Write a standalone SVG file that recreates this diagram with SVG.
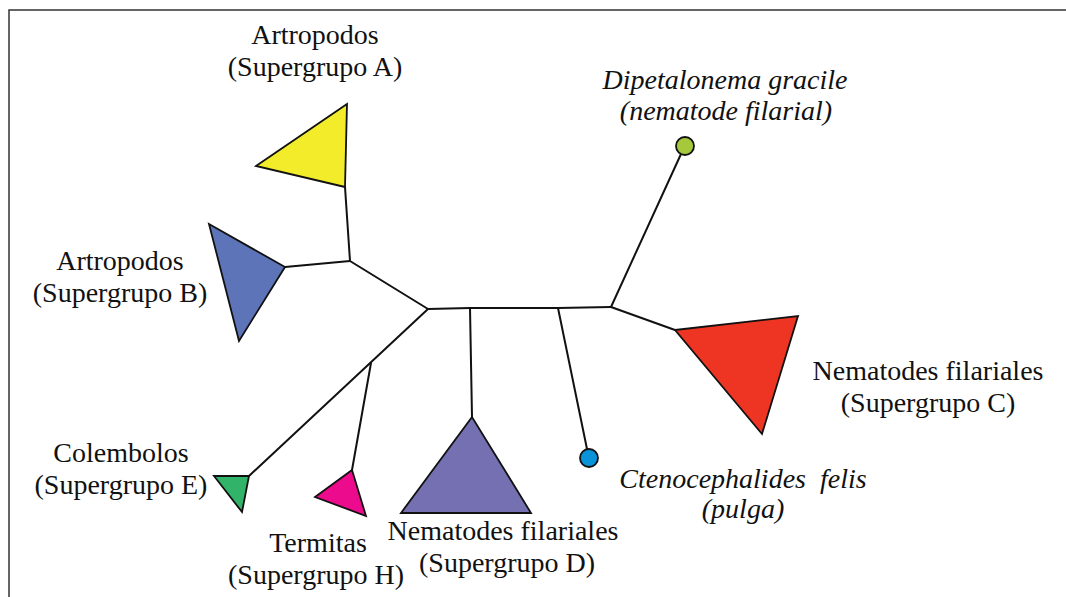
<svg xmlns="http://www.w3.org/2000/svg" width="1066" height="597" viewBox="0 0 1066 597">
<style>
.t{font-family:"Liberation Serif","Times New Roman",serif;font-size:28px;fill:#111;text-anchor:middle}
.i{font-style:italic}
.e{stroke:#111;stroke-width:2;fill:none;stroke-linejoin:round;stroke-linecap:round}
.s{stroke:#111;stroke-width:1.8;stroke-linejoin:miter}
</style>
<rect x="0" y="0" width="1066" height="597" fill="#fff"/>
<path d="M9,597 V10 H1066" fill="none" stroke="#333" stroke-width="1.5"/>
<g id="connectors" class="e">
<polyline points="345,187 350,261 428,309"/>
<line x1="285" y1="267" x2="350" y2="261"/>
<polyline points="428,309 470,308 558,308 611,307"/>
<line x1="611" y1="307" x2="681" y2="154"/>
<line x1="611" y1="307" x2="675" y2="330"/>
<line x1="470" y1="308" x2="472" y2="417"/>
<line x1="558" y1="308" x2="587" y2="449"/>
<line x1="428" y1="309" x2="249" y2="476"/>
<line x1="371" y1="363" x2="352" y2="470"/>
</g>
<g id="supergrupoA">
<polygon class="s" points="347,104 256,166 345,187" fill="#f3ec2b"/>
<text class="t" x="315" y="44">Artropodos</text>
<text class="t" x="315" y="76">(Supergrupo A)</text>
</g>
<g id="supergrupoB">
<polygon class="s" points="209,224 285,267 239,341" fill="#5d74b9"/>
<text class="t" x="120" y="270">Artropodos</text>
<text class="t" x="120" y="302">(Supergrupo B)</text>
</g>
<g id="supergrupoC">
<polygon class="s" points="675,330 798,316 762,434" fill="#ee3524"/>
<text class="t" x="928" y="380">Nematodes filariales</text>
<text class="t" x="928" y="412">(Supergrupo C)</text>
</g>
<g id="supergrupoD">
<polygon class="s" points="472,417 401,513 531,513" fill="#7470b1"/>
<text class="t" x="503" y="540">Nematodes filariales</text>
<text class="t" x="507" y="572">(Supergrupo D)</text>
</g>
<g id="supergrupoE">
<polygon class="s" points="214,476 249,476 242,512" fill="#32b36a"/>
<text class="t" x="121" y="462">Colembolos</text>
<text class="t" x="121" y="494">(Supergrupo E)</text>
</g>
<g id="supergrupoH">
<polygon class="s" points="352,470 315,497 366,516" fill="#ec0b8c"/>
<text class="t" x="318" y="552">Termitas</text>
<text class="t" x="316" y="584">(Supergrupo H)</text>
</g>
<g id="dipetalonema">
<circle class="s" cx="685" cy="146" r="9" fill="#a6c93b"/>
<text class="t i" x="725" y="89">Dipetalonema gracile</text>
<text class="t i" x="726" y="120">(nematode filarial)</text>
</g>
<g id="ctenocephalides">
<circle class="s" cx="589" cy="458" r="9" fill="#0a93d8"/>
<text class="t i" x="743" y="488" xml:space="preserve">Ctenocephalides  felis</text>
<text class="t i" x="743" y="518">(pulga)</text>
</g>
</svg>
